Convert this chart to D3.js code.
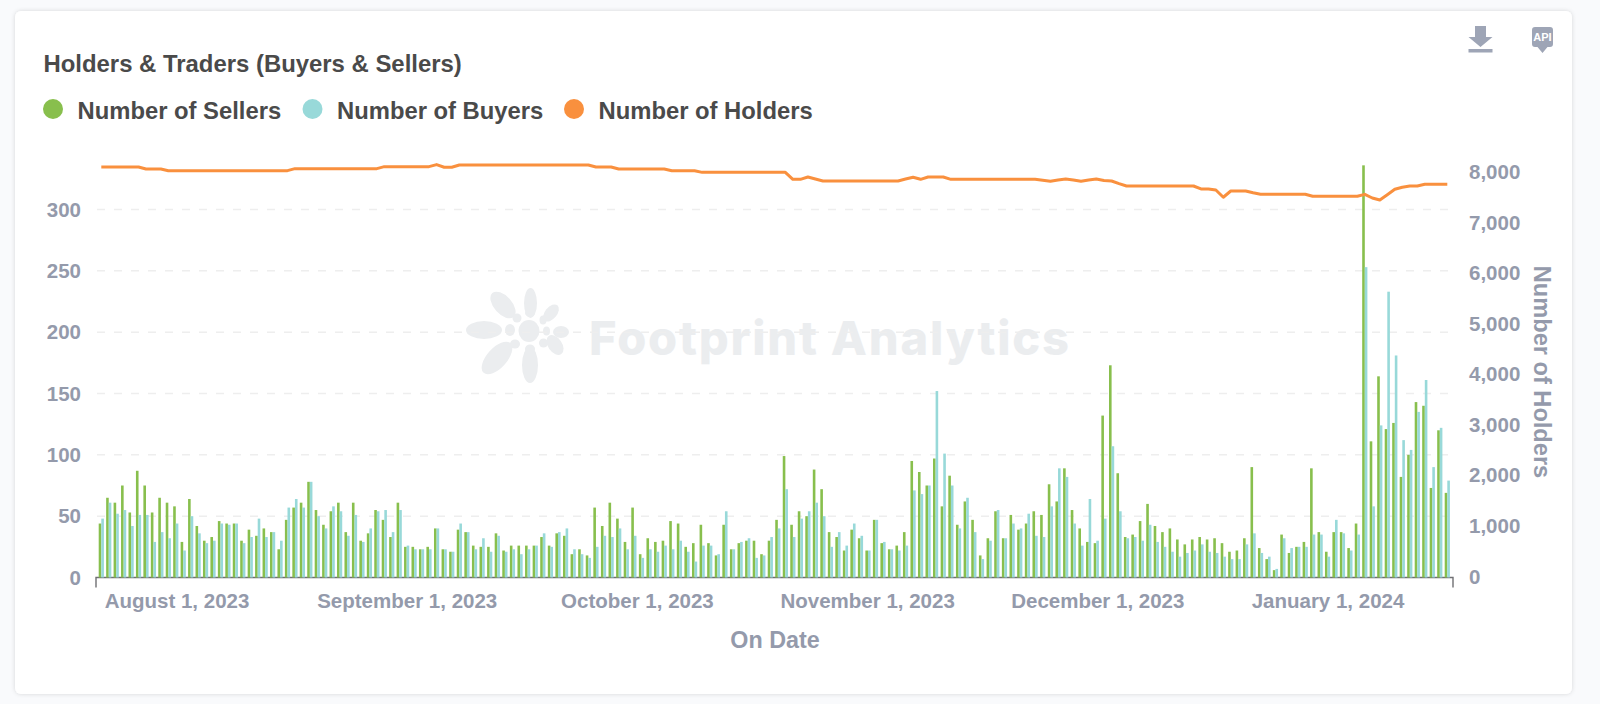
<!DOCTYPE html>
<html>
<head>
<meta charset="utf-8">
<script src="https://cdn.jsdelivr.net/npm/d3@7"></script>
<style>
  html, body { margin: 0; background: #f9fafc; }
  svg { display: block; font-family: "Liberation Sans", Arial, sans-serif; }
</style>
</head>
<body>
<div id="chart"></div>
<script>
var firstDay = "2023-07-22";
var dayCount = 180;
var monthTicks = ["August 1, 2023", "September 1, 2023", "October 1, 2023", "November 1, 2023", "December 1, 2023", "January 1, 2024"];
var leftTicks = [0, 50, 100, 150, 200, 250, 300];
var rightTicks = [0, 1000, 2000, 3000, 4000, 5000, 6000, 7000, 8000];

var sellers = [
  44, 65, 61, 75, 53, 87, 75, 53, 65, 61, 58, 29, 64, 42, 30, 33, 46, 44, 44, 30,
  39, 34, 40, 37, 23, 47, 57, 61, 78, 55, 43, 54, 61, 37, 61, 30, 36, 55, 47, 33,
  61, 25, 25, 23, 25, 40, 23, 21, 39, 37, 26, 25, 25, 36, 22, 26, 26, 26, 26, 33,
  26, 36, 34, 19, 23, 18, 57, 42, 61, 48, 29, 57, 19, 32, 29, 30, 46, 44, 25, 28,
  43, 28, 18, 43, 23, 28, 30, 30, 19, 30, 47, 99, 43, 54, 50, 88, 72, 37, 33, 22,
  39, 32, 22, 47, 28, 23, 26, 37, 95, 86, 75, 97, 58, 83, 43, 62, 47, 18, 32, 54,
  32, 51, 39, 44, 54, 51, 76, 62, 89, 55, 40, 29, 28, 132, 173, 85, 33, 35, 46, 60,
  42, 37, 40, 31, 27, 31, 33, 31, 32, 28, 21, 22, 32, 90, 24, 15, 6, 35, 20, 25,
  29, 89, 37, 21, 37, 37, 24, 44, 336, 111, 164, 121, 126, 82, 100, 143, 140, 73, 120, 69
];

var buyers = [
  48, 61, 52, 55, 42, 51, 51, 29, 37, 32, 44, 22, 50, 36, 28, 30, 44, 43, 44, 28,
  33, 48, 33, 37, 30, 57, 64, 57, 78, 50, 40, 58, 54, 34, 51, 29, 40, 54, 55, 37,
  55, 26, 23, 23, 23, 40, 23, 21, 44, 37, 23, 32, 21, 34, 21, 23, 19, 23, 26, 36,
  25, 37, 40, 23, 19, 16, 25, 34, 33, 40, 23, 34, 16, 23, 21, 26, 23, 30, 21, 13,
  26, 26, 19, 54, 23, 29, 32, 16, 18, 33, 40, 72, 33, 48, 54, 61, 50, 25, 37, 26,
  44, 34, 22, 47, 29, 23, 22, 26, 71, 68, 75, 152, 101, 75, 40, 65, 37, 15, 30, 55,
  32, 44, 40, 52, 34, 33, 58, 89, 82, 44, 26, 64, 30, 48, 107, 54, 32, 33, 30, 43,
  29, 25, 21, 17, 20, 22, 27, 21, 20, 17, 15, 15, 27, 36, 20, 17, 7, 32, 24, 25,
  25, 35, 35, 17, 47, 36, 22, 35, 253, 58, 124, 233, 181, 112, 104, 135, 161, 90, 122, 79
];

var holders = [
  8119, 8119, 8119, 8119, 8119, 8119, 8080, 8080, 8080, 8046, 8046, 8046, 8046, 8046, 8046, 8046, 8046, 8046, 8046, 8046,
  8046, 8046, 8046, 8046, 8046, 8046, 8086, 8086, 8086, 8086, 8086, 8086, 8086, 8086, 8086, 8086, 8086, 8086, 8126, 8126,
  8126, 8126, 8126, 8126, 8126, 8166, 8113, 8113, 8158, 8158, 8158, 8158, 8158, 8158, 8158, 8158, 8158, 8158, 8158, 8158,
  8158, 8158, 8158, 8158, 8158, 8158, 8119, 8119, 8119, 8080, 8080, 8080, 8080, 8080, 8080, 8080, 8046, 8046, 8046, 8046,
  8013, 8013, 8013, 8013, 8013, 8013, 8013, 8013, 8013, 8013, 8013, 8013, 7875, 7875, 7920, 7880, 7842, 7842, 7842, 7842,
  7842, 7842, 7842, 7842, 7842, 7842, 7842, 7880, 7915, 7875, 7920, 7920, 7920, 7875, 7875, 7875, 7875, 7875, 7875, 7875,
  7875, 7875, 7875, 7875, 7875, 7855, 7835, 7860, 7880, 7860, 7835, 7860, 7880, 7850, 7842, 7790, 7743, 7743, 7743, 7743,
  7743, 7743, 7743, 7743, 7743, 7743, 7684, 7684, 7664, 7520, 7644, 7644, 7644, 7610, 7580, 7580, 7580, 7580, 7580, 7580,
  7580, 7540, 7540, 7540, 7540, 7540, 7540, 7540, 7578, 7506, 7466, 7570, 7678, 7717, 7743, 7743, 7776, 7776, 7776, 7776
];

var legendItems = [
  { name: "Number of Sellers", color: "#88bf4d" },
  { name: "Number of Buyers", color: "#98d9d9" },
  { name: "Number of Holders", color: "#f9903e" }
];

var width = 1600, height = 704;
var axisColor = "#949aab", inkColor = "#4a4a4a", axisY = 577.5;

var svg = d3.select("#chart").append("svg")
  .attr("width", width)
  .attr("height", height);

// card
svg.append("defs").append("filter").attr("id", "cardShadow")
  .attr("x", "-2%").attr("y", "-2%").attr("width", "104%").attr("height", "104%")
  .append("feDropShadow")
  .attr("dx", 0).attr("dy", 0).attr("stdDeviation", 2)
  .attr("flood-color", "#000").attr("flood-opacity", 0.14);

svg.append("rect")
  .attr("x", 15).attr("y", 11).attr("width", 1557).attr("height", 683).attr("rx", 6)
  .attr("fill", "#fff").attr("filter", "url(#cardShadow)");

// watermark sits under everything else
var mark = svg.append("g").attr("fill", "#ebedef");
var petals = [
  [530.5, 303, 6.5, 15, 0], [503, 305, 9, 16, -42], [551, 313, 6, 10, 40], [484, 330, 18, 9, 0],
  [561, 332, 8, 6, 0], [555, 345, 7, 11, -35], [530, 365, 8, 18, 0], [497, 358, 10, 20, 42],
  [510, 330, 5, 6, 0], [530, 313, 5, 4, 0], [517, 318, 4.5, 4.5, 0], [543, 320, 3.5, 4.5, 0],
  [546.5, 331, 3.5, 4.5, 0], [543.5, 343, 4.5, 4.5, 0], [530, 349, 5, 4.5, 0], [515, 344, 5, 4.5, 0],
  [529, 331, 10.5, 11, 0]
];
mark.selectAll("ellipse").data(petals).join("ellipse")
  .attr("transform", function(d){ return "translate(" + d[0] + "," + d[1] + ") rotate(" + d[4] + ")"; })
  .attr("rx", function(d){ return d[2]; })
  .attr("ry", function(d){ return d[3]; });
mark.append("text")
  .attr("x", 589).attr("y", 355)
  .attr("font-size", 47).attr("font-weight", 800)
  .attr("font-family", "Inter, \"Liberation Sans\", sans-serif")
  .attr("textLength", 480)
  .text("Footprint Analytics");

// scales
var parseDay = d3.utcParse("%Y-%m-%d");
var days = d3.utcDay.range(parseDay(firstDay), d3.utcDay.offset(parseDay(firstDay), dayCount));
// the screenshot is not perfectly even, so the day scale follows it in a few pieces
var x = d3.scaleLinear().domain([0, 44, 87, 111, 134, 168, 179]).range([101.3, 429, 755.3, 935.6, 1111.6, 1364.8, 1447.3]);
var xTicks = d3.scalePoint().domain(monthTicks).range([176.5, 1327.5]);
var yLeft = d3.scaleLinear().domain([0, 300]).range([axisY, 209.5]);
var yRight = d3.scaleLinear().domain([0, 8000]).range([axisY, 173]);
var barWidth = 2.6;

// grid
svg.append("g").selectAll("line").data(leftTicks.slice(1)).join("line")
  .attr("x1", 97).attr("x2", 1453)
  .attr("y1", function(d){ return yLeft(d); })
  .attr("y2", function(d){ return yLeft(d); })
  .attr("stroke", "#eeeeee").attr("stroke-width", 1.5)
  .attr("stroke-dasharray", "8,9");

// axis line goes under the bars
svg.append("path")
  .attr("d", "M96," + (axisY + 10) + "V" + axisY + "H1453V" + (axisY + 10))
  .attr("fill", "none")
  .attr("stroke", "#6f6f73")
  .attr("stroke-width", 1.4);

// bars
svg.append("g").selectAll("rect").data(sellers).join("rect")
  .attr("x", function(d, i){ return x(i) - barWidth; })
  .attr("y", function(d){ return yLeft(d); })
  .attr("width", barWidth)
  .attr("height", function(d){ return axisY - yLeft(d); })
  .attr("fill", legendItems[0].color);

svg.append("g").selectAll("rect").data(buyers).join("rect")
  .attr("x", function(d, i){ return x(i); })
  .attr("y", function(d){ return yLeft(d); })
  .attr("width", barWidth)
  .attr("height", function(d){ return axisY - yLeft(d); })
  .attr("fill", legendItems[1].color);

// axes
function styleAxis(g, size){
  g.select(".domain").remove();
  g.selectAll("text")
    .attr("fill", axisColor)
    .attr("font-size", size)
    .attr("font-weight", 700)
    .attr("font-family", "\"Liberation Sans\", Arial, sans-serif");
}

svg.append("g")
  .attr("transform", "translate(81,0)")
  .call(d3.axisLeft(yLeft).tickValues(leftTicks).tickSize(0).tickPadding(0))
  .call(styleAxis, 20.5);

svg.append("g")
  .attr("transform", "translate(1469,-1)")
  .call(d3.axisRight(yRight).tickValues(rightTicks).tickSize(0).tickPadding(0).tickFormat(d3.format(",")))
  .call(styleAxis, 20.5);

svg.append("g")
  .attr("transform", "translate(0," + (axisY + 15.5) + ")")
  .call(d3.axisBottom(xTicks).tickSize(0).tickPadding(0))
  .call(styleAxis, 20.5);

// holders line
var line = d3.line()
  .x(function(d, i){ return x(i); })
  .y(function(d){ return yRight(d); });

svg.append("path")
  .datum(holders)
  .attr("d", line)
  .attr("fill", "none")
  .attr("stroke", legendItems[2].color)
  .attr("stroke-width", 3)
  .attr("stroke-linejoin", "round");

// titles
svg.append("text")
  .attr("x", 43.5).attr("y", 72)
  .attr("font-size", 23.9).attr("font-weight", 700)
  .attr("fill", inkColor)
  .text("Holders & Traders (Buyers & Sellers)");

svg.append("text")
  .attr("x", 775).attr("y", 648)
  .attr("text-anchor", "middle")
  .attr("font-size", 23.3).attr("font-weight", 700)
  .attr("fill", axisColor)
  .text("On Date");

svg.append("text")
  .attr("transform", "translate(1534,372) rotate(90)")
  .attr("text-anchor", "middle")
  .attr("font-size", 23.6).attr("font-weight", 700)
  .attr("fill", axisColor)
  .text("Number of Holders");

// legend
var legendX = [53, 312.5, 574];
var legend = svg.append("g").selectAll("g").data(legendItems).join("g")
  .attr("transform", function(d, i){ return "translate(" + legendX[i] + ",109)"; });
legend.append("circle").attr("r", 10).attr("fill", function(d){ return d.color; });
legend.append("text")
  .attr("x", 24.5).attr("y", 9.5)
  .attr("font-size", 23.8).attr("font-weight", 700)
  .attr("fill", inkColor)
  .text(function(d){ return d.name; });

// toolbar icons
var icons = svg.append("g").attr("fill", "#9ea5b6");
icons.append("path").attr("d", "M1475,26H1486V37H1492.5L1480.5,47L1468.5,37H1475Z");
icons.append("rect").attr("x", 1468.5).attr("y", 49).attr("width", 24).attr("height", 3.5);
icons.append("path").attr("d", "M1535,27H1550Q1553,27 1553,30V44Q1553,47 1550,47H1547.5L1542.5,53L1537.5,47H1535Q1532,47 1532,44V30Q1532,27 1535,27Z");
svg.append("text")
  .attr("x", 1542.5).attr("y", 41)
  .attr("text-anchor", "middle")
  .attr("font-size", 11).attr("font-weight", 700)
  .attr("fill", "#fff")
  .text("API");
</script>
</body>
</html>
